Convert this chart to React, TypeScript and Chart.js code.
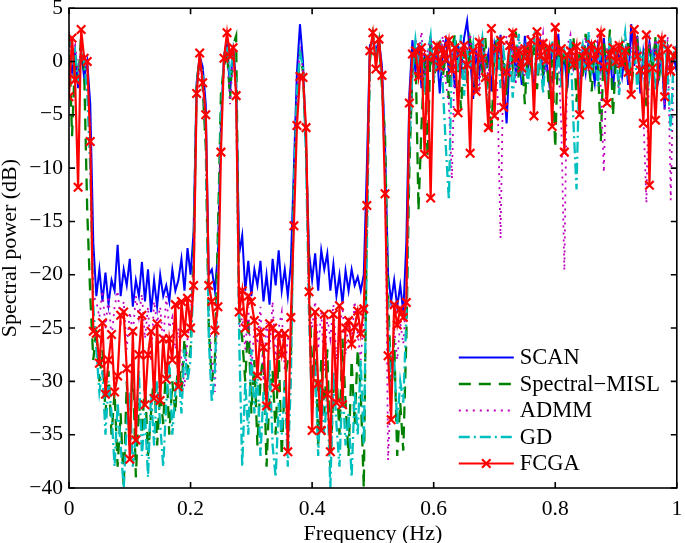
import React, { useEffect, useRef } from "react";
import { Chart, registerables } from "chart.js";

Chart.register(...registerables);

// ---------------- data ----------------
const FREQ_STEP = 0.005; // sampling grid of the spectrum (Hz)
const X_TICKS = [0, 0.2, 0.4, 0.6, 0.8, 1];
const Y_TICKS = [5, 0, -5, -10, -15, -20, -25, -30, -35, -40];
const SERIES_NAMES = ["SCAN", "Spectral\u2212MISL", "ADMM", "GD", "FCGA"];
const X_TITLE = "Frequency (Hz)";
const Y_TITLE = "Spectral power (dB)";

const SCAN = [
  0.5, -1, 1, -2.5, 0.8, -1.5, 0, -4, -17,
  -22, -19.5, -22.5, -19.8, -22.8, -20.5, -21.5, -17.2, -22, -19.5, -21, -18.5, -23, -20.5, -22, -18.8,
  -22.5, -19.5, -23.5, -20.5, -23, -20, -22, -21, -22.5, -19.5, -21.5, -20.5, -18.5, -21.5, -17.5,
  -20, -16, -2, 0.5, -0.5, -4, -20, -19.5, -21.5, -18, -6, 0.5, 2, -3, 1.5, -2, -18,
  -16.3, -21.5, -18.7, -22, -19.5, -21, -18.7, -22.5, -20, -22.8, -18.5, -21, -17.7, -21.5, -19.5, -22,
  -19, -10, -1, 3.5, 0, -8, -18,
  -20.5, -18, -21.5, -17.7, -19.5, -18, -21.5, -19, -22, -20, -22.7, -19.6, -21.5, -19.5, -21, -20.2, -21.5, -20,
  -10, 1.5, 2, 1, 2, -0.5, -8, -20, -22.5, -20.5, -23, -21, -23.5, -17, -3, 2,
  -1.0, 1.5, -2.5, 0.5, -1.5, 2.0, -0.5, 1.0, -3.0, 0.8,
  2.0, -1.0, 0.5, -2.5, 1.5, -0.8, 2.2, 3.8, 0.5, -3.5,
  1.0, -1.2, 2.2, -0.5, 0.8, -2.8, 1.5, -0.3, 2.5, -1.8,
  -5.8, 0.5, 1.8, -1.0, 0.6, -2.2, 2.4, -0.6, 1.2, -3.0,
  0.8, 2.0, -1.5, 0.3, -2.0, 1.6, -0.8, 2.6, -1.2, 0.4,
  -2.5, 1.8, -0.5, 0.9, -3.2, 1.2, -1.0, 2.0, 0.0, -2.0,
  1.4, -0.7, 2.2, -1.6, 0.6, -2.6, 1.0, 0.5, -1.4, 0.8,
  -2.2, 3.5, -0.4, 2.4, -3.0, 0.9, -1.2, 1.8, -0.6, 2.0,
  -1.5, 0.8, -4.5, 1.2, -0.8, 0.4, -1.0,
];

const SPECTRAL_MISL = [
  2.5, -7, 0.5, -2, 2.5, -1, -14, -22, -28,
  -25, -30, -27, -33, -29, -35, -31, -38, -33, -40, -30, -36, -28, -39, -32, -35,
  -30, -37, -33, -29, -36, -31, -34, -28, -35, -30, -33, -27, -31, -26, -29,
  -27, -18, -2, 0.3, -2.5, -8, -25, -30, -28, -16, -3, -0.5, 1.0, -3.5, 1.5, 2.4, -24,
  -26, -30, -24, -33, -28, -36, -30, -27, -38, -31, -29, -35, -27, -37, -30, -28,
  -28, -12, -4, 1, -1, -8, -20,
  -30, -25, -36, -28, -33, -27, -38, -31, -29, -35, -26, -32, -37, -28, -34, -27, -31, -40,
  -15, 0, 2.5, 0.5, 2.0, -2.5, -7, -22, -30, -26, -37, -32, -36.5, -26, -10,
  -1.0, 1.5, -14.0, -6.0, 0.5, -9.0, 1.8, -2.0, 0.5, 2.3,
  -1.5, 0.8, -3.5, 1.2, 2.6, -0.5, -4.5, 1.0, -2.0, 2.0,
  0.3, -3.0, 1.5, -0.8, 2.2, -2.5, -6.8, 0.8, 2.5, -1.2,
  0.4, -3.2, 1.8, -0.5, 2.8, -1.8, 0.6, -4.0, 1.4, -0.6,
  2.0, -2.6, 0.9, -1.0, 1.7, -3.5, 0.2, -8.1, 2.0, -0.8,
  1.2, -2.0, 0.5, 2.4, -3.8, 1.0, -1.4, 2.6, -0.2, -2.8,
  1.3, 0.2, -7.5, 1.8, -1.0, 3.0, -5.1, 0.6, -2.2, 1.5,
  -0.4, 2.1, -3.0, 0.7, 1.9, -1.6, 0.3, -4.2, 1.6, -0.9,
  2.3, -2.0, 0.8, -3.4, 1.2, -0.5, 0.9, 0.2,
];

const ADMM = [
  2.8, 0.5, 1.5, -1, 1.5, 0.5, -2.5, -6, -22,
  -22.5, -24, -21.5, -25, -22, -26, -23, -21.5, -24.5, -22.5, -27, -23.5, -25.5, -22, -24, -21.8,
  -26, -23, -28, -22.5, -24.5, -23, -26.5, -22, -25, -24, -27, -25, -28, -30.5, -26,
  -24, -19, -3.5, 0, -2.5, -7, -24, -28, -31, -22, -6, -0.5, 1.5, -4, 0.5, -3, -25,
  -24, -27, -23, -29, -25, -26.5, -23, -30, -24.5, -27, -22.5, -28, -25, -23.5, -29, -26,
  -26, -13, -4, 1.5, -1, -8, -23,
  -25, -22.5, -27, -23.5, -29, -24, -26, -22.8, -28, -25, -23, -27.5, -24, -26.5, -22.5, -25.5, -28, -24,
  -16, 0.5, 2.5, 0, 1.8, -1.5, -9, -37.4, -30, -25, -28, -24.5, -26.5, -22, -6,
  -1.0, 2.2, 0.5, 2.8, -1.5, 1.0, 2.5, -0.8, 1.8, 0.2,
  2.4, -2.0, -4.0, -11.0, 1.5, 0.0, 2.2, -1.2, 1.0, 2.6,
  -0.6, 1.4, -2.8, 2.0, 0.3, -1.6, 2.5, 0.8, -3.0, -16.6,
  1.2, 2.4, -0.8, 1.6, -2.2, 2.0, 0.5, -1.4, 2.7, 0.1,
  -2.5, 1.8, 0.6, 2.6, -1.1, 1.3, -3.5, 2.1, 0.4, -6.0,
  -19.6, 1.5, 2.5, -0.9, 1.9, -2.4, 0.8, 2.3, -1.0, 1.6,
  0.2, 2.4, -2.6, -10.4, 1.1, 2.2, -0.7, 1.7, -3.2, 0.9,
  2.6, -1.3, 1.4, 0.0, 2.3, -2.0, -5.0, -13.3, 1.8, 0.4,
  2.1, -1.8, 1.0, -4.5, 2.4, -13.0, 0.6, 2.0,
];

const GD = [
  2.5, 0, 1, -2, 1, 0, -3, -10, -23,
  -27, -31, -29, -35, -30, -33, -38, -32, -36, -40, -34, -31, -38, -35, -29, -37,
  -33, -39, -31, -36, -30, -34, -38, -32, -28, -35, -31, -29, -33, -27, -30,
  -28, -20, -2.5, 0.2, -1, -6, -26, -32, -29, -20, -5, 0.5, 1.8, -1.5, 1.0, -2, -26,
  -38, -30, -35, -27, -33, -29, -37, -31, -34, -28, -36, -39, -32, -35, -30, -38,
  -30, -12, -3, 0.8, -0.5, -9, -24,
  -33, -28, -37, -30, -35, -31, -40, -29, -34, -38, -30, -36, -33, -39, -31, -35, -28, -36,
  -18, 0.5, 2.0, 0.8, 1.5, -2, -10, -24, -31, -28, -34, -30, -32, -24, -8,
  -1.0, 2.0, -0.5, 1.2, -3.0, 0.6, 2.4, -1.8, 0.3, 1.5,
  -2.2, -8.0, -13.0, 0.5, 1.8, -1.0, 2.5, -3.2, 0.8, -0.5,
  1.6, -2.0, 0.4, 2.2, -1.5, -4.0, 1.2, -0.6, 2.0, -2.5,
  0.9, -1.2, 1.7, -3.4, 0.2, 2.6, -0.9, 1.1, -2.1, 0.7,
  2.3, -1.4, 0.5, -3.0, 1.4, 0.0, 2.0, -1.7, 0.8, -2.4,
  1.0, -0.3, 2.1, -5.8, -12.0, 0.4, 1.6, -1.1, 2.8, -0.7,
  0.9, -2.3, 1.5, 0.1, -1.9, 2.4, -0.4, 1.3, -3.1, 0.6,
  2.7, -1.0, 0.3, 1.8, -2.6, 0.9, -0.2, 2.2, -1.5, 0.5,
  -2.8, 1.4, -0.6, 2.0, -1.2, -6.5, 0.8, 1.5,
];

const FCGA = [
  -3.3, 2.2, -1.7, -11.8, 3.0, 0.3, 0.0, -7.5, -25.3,
  -25.5, -28.3, -24.5, -31.2, -28, -25.6, -31, -29.5, -23.8, -23.5, -28.8, -37.3, -25.3, -35.5, -27.5, -23.8,
  -32.2, -27.5, -25.3, -31.6, -24.6, -31.8, -26, -29.8, -26, -28, -22.8, -30.5, -22.5, -25.5, -22.2,
  -25, -21, -3, 0.8, -2, -5, -21, -22.5, -25.2, -23, -8.5, 0.3, 2.7, 0.5, 1.3, -3.2, -23.5,
  -21.5, -25, -22, -22.5, -24.3, -29.5, -25.4, -26.8, -32.3, -24.6, -25, -30.6, -25.5, -27.5, -25.5, -36.6,
  -24, -15.4, -6, -1.4, -1.5, -6.2,
  -21.6, -34.6, -23.5, -30.2, -34.6, -23.7, -31.2, -36.6, -23.7, -32, -22.9, -32.2, -25, -24.3, -26.5, -24.9, -23.4, -25.5, -23.2,
  -13.5, 1.0, 2.7, -0.7, 2.1, -1.3, -12.4, -27.6, -33.6, -22.8, -24.7, -23.2, -24, -22.6, -3.9,
  0.7, 1.0, -1.4, 1.3, -8.7, 0.4, -12.8, 0.5, 1.5, -0.5,
  1.2, 0.2, 2.0, -0.8, 1.3, -4.8, 0.8, 1.5, -0.3, -8.6,
  1.0, -2.8, 1.8, 0.3, -1.5, -6.2, 3.1, -5.1, 1.2, 2.0,
  -4.3, -1.0, 1.5, 2.7, 0.2, 1.0, -0.6, 1.2, 0.0, 2.0,
  -5.1, 2.8, 0.5, 1.7, 0.1, 1.3, -6.1, 3.2, 0.8, 1.2,
  -8.5, 0.6, 1.0, -0.3, 1.4, -5.0, 0.5, 1.0, -0.4, 1.6,
  0.2, 1.0, 2.7, -0.5, -3.9, 0.6, 1.3, 0.0, 1.5, -0.2,
  1.0, -1.0, -3.1, 3.0, 0.5, -0.8, -5.8, 2.5, -11.6, -0.6,
  -5.5, 0.5, 2.1, -3.3, 1.2, -0.9, 0.5, 1.0,
];

// ---------------- styling ----------------
const FONT = '"Liberation Serif", "Times New Roman", Times, serif';
const W = 685;
const H = 543;

const toPoints = (vals: number[]) => vals.map((v, i) => ({ x: +(i * FREQ_STEP).toFixed(4), y: v }));
const fmt = (v: number) => {
  const r = Math.round(v * 100) / 100;
  return r < 0 ? "\u2212" + String(-r) : String(r);
};

const framePlugin = {
  id: "matlabFrame",
  afterDatasetsDraw(chart: any) {
    const { ctx, chartArea } = chart;
    const { left, right, top, bottom } = chartArea;
    const xs = chart.scales.x;
    const ys = chart.scales.y;
    ctx.save();
    ctx.setLineDash([]);
    ctx.strokeStyle = "#000";
    ctx.lineWidth = 1.6;
    ctx.strokeRect(left, top, right - left, bottom - top);
    const tl = 6;
    ctx.beginPath();
    X_TICKS.forEach((v) => {
      const px = xs.getPixelForValue(v);
      ctx.moveTo(px, bottom);
      ctx.lineTo(px, bottom - tl);
      ctx.moveTo(px, top);
      ctx.lineTo(px, top + tl);
    });
    Y_TICKS.forEach((v) => {
      const py = ys.getPixelForValue(v);
      ctx.moveTo(left, py);
      ctx.lineTo(left + tl, py);
      ctx.moveTo(right, py);
      ctx.lineTo(right - tl, py);
    });
    ctx.stroke();
    ctx.restore();
  },
  afterDraw(chart: any) {
    const { ctx, chartArea } = chart;
    const { left, right, top, bottom } = chartArea;
    ctx.save();
    ctx.fillStyle = "#000";
    ctx.font = `22px ${FONT}`;
    // axis titles
    ctx.textAlign = "center";
    ctx.textBaseline = "alphabetic";
    ctx.fillText(X_TITLE, (left + right) / 2, 540);
    ctx.translate(16, (top + bottom) / 2);
    ctx.rotate(-Math.PI / 2);
    ctx.fillText(Y_TITLE, 0, 0);
    ctx.setTransform(1, 0, 0, 1, 0, 0);

    // legend
    const lx0 = right - 218;
    const lx1 = right - 163;
    const ly0 = bottom - 130.5;
    chart.data.datasets.forEach((ds: any, i: number) => {
      const y = ly0 + i * 26.5;
      ctx.beginPath();
      ctx.setLineDash(ds.borderDash || []);
      ctx.strokeStyle = ds.borderColor;
      ctx.lineWidth = ds.borderWidth;
      ctx.moveTo(lx0, y);
      ctx.lineTo(lx1, y);
      ctx.stroke();
      ctx.setLineDash([]);
      if (ds.pointRadius > 0) {
        const cx = (lx0 + lx1) / 2;
        const r = ds.pointRadius * 0.707;
        ctx.beginPath();
        ctx.lineWidth = ds.pointBorderWidth;
        ctx.moveTo(cx - r, y - r);
        ctx.lineTo(cx + r, y + r);
        ctx.moveTo(cx - r, y + r);
        ctx.lineTo(cx + r, y - r);
        ctx.stroke();
      }
      ctx.fillStyle = "#000";
      ctx.font = `22.5px ${FONT}`;
      ctx.textAlign = "left";
      ctx.textBaseline = "middle";
      ctx.fillText(ds.label, lx1 + 6, y + 1);
    });
    ctx.restore();
  },
};

export default function App() {
  const ref = useRef<HTMLCanvasElement | null>(null);

  useEffect(() => {
    if (!ref.current) return;
    const common = { pointRadius: 0, tension: 0, fill: false };
    const chart = new Chart(ref.current, {
      type: "line",
      data: {
        datasets: [
          { ...common, label: SERIES_NAMES[0], data: toPoints(SCAN), borderColor: "#0000ff", borderWidth: 2, order: 5 },
          { ...common, label: SERIES_NAMES[1], data: toPoints(SPECTRAL_MISL), borderColor: "#008000", borderWidth: 2.3, borderDash: [12, 8], order: 4 },
          { ...common, label: SERIES_NAMES[2], data: toPoints(ADMM), borderColor: "#bf00bf", borderWidth: 1.8, borderDash: [2, 5], order: 3 },
          { ...common, label: SERIES_NAMES[3], data: toPoints(GD), borderColor: "#00bfbf", borderWidth: 2.3, borderDash: [11, 4, 2, 4], order: 2 },
          {
            ...common,
            label: SERIES_NAMES[4],
            data: toPoints(FCGA),
            borderColor: "#ff0000",
            borderWidth: 2.2,
            pointRadius: 6,
            pointStyle: "crossRot",
            pointBorderColor: "#ff0000",
            pointBackgroundColor: "#ff0000",
            pointBorderWidth: 2.2,
            order: 1,
          },
        ] as any,
      },
      options: {
        responsive: false,
        animation: false,
        devicePixelRatio: 1,
        events: [],
        layout: { padding: { top: 7, right: 5, left: 0, bottom: 0 } },
        plugins: { legend: { display: false }, tooltip: { enabled: false } },
        scales: {
          x: {
            type: "linear",
            min: 0,
            max: 1,
            grid: { display: false, drawTicks: false },
            border: { display: false },
            ticks: {
              stepSize: 0.2,
              autoSkip: false,
              maxRotation: 0,
              padding: 8,
              color: "#000",
              font: { family: FONT, size: 21.5 },
              callback: (v: any) => fmt(Number(v)),
            },
            afterFit: (s: any) => {
              s.height = 55;
              s.paddingLeft = 0;
              s.paddingRight = 0;
            },
          },
          y: {
            type: "linear",
            min: -40,
            max: 5,
            grid: { display: false, drawTicks: false },
            border: { display: false },
            ticks: {
              stepSize: 5,
              autoSkip: false,
              padding: 6,
              color: "#000",
              font: { family: FONT, size: 21.5 },
              callback: (v: any) => fmt(Number(v)),
            },
            afterFit: (s: any) => {
              s.width = 69;
              s.paddingTop = 0;
              s.paddingBottom = 0;
            },
          },
        },
      } as any,
      plugins: [framePlugin],
    });
    return () => chart.destroy();
  }, []);

  return (
    <div style={{ position: "absolute", left: 0, top: 0, width: W, height: H, background: "#fff" }}>
      <canvas ref={ref} width={W} height={H} style={{ display: "block", width: W, height: H }} />
    </div>
  );
}
